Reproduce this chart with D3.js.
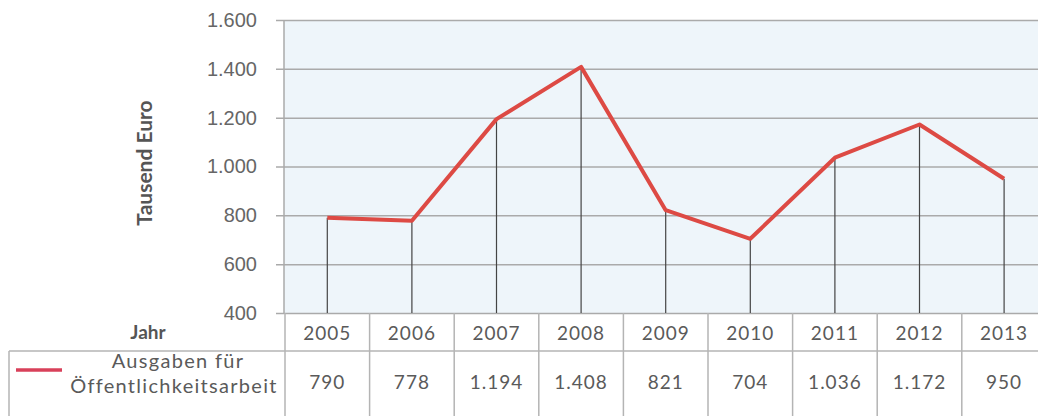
<!DOCTYPE html>
<html>
<head>
<meta charset="utf-8">
<script src="https://cdn.jsdelivr.net/npm/d3@7"></script>
<style>
    body { margin: 0; background: #fff; }
    svg { display: block; font-family: Lato, 'Open Sans', sans-serif; }
    .tick-label { fill: #666; font-size: 20px; }
    .cell-text { fill: #5a5a5a; font-size: 19px; letter-spacing: 1px; }
    .series-text { fill: #5a5a5a; font-size: 20px; letter-spacing: 1.3px; }
</style>
</head>
<body>
<div id="chart"></div>
<script>
// chart data
let years = ['2005', '2006', '2007', '2008', '2009', '2010', '2011', '2012', '2013'];
let spending = [790, 778, 1194, 1408, 821, 704, 1036, 1172, 950];
let spendingLabels = ['790', '778', '1.194', '1.408', '821', '704', '1.036', '1.172', '950'];
let yTicks = [400, 600, 800, 1000, 1200, 1400, 1600];
let seriesName = ['Ausgaben für', 'Öffentlichkeitsarbeit'];

let width = 1038,
    height = 416;

let svg = d3.select('#chart').append('svg').attr('width', width).attr('height', height);

// Scales
let x = d3.scaleBand().domain(years).range([285, 285 + 9 * 84.6]);
let y = d3.scaleLinear().domain([400, 1600]).range([313, 20]);

let fmt = (d) => d3.format(',')(d).replace(/,/g, '.');

// plot background
svg.append('rect')
    .attr('x', 284)
    .attr('y', y(1600))
    .attr('width', width - 284)
    .attr('height', y(400) - y(1600))
    .attr('fill', '#eef5fa');

// gridlines + labels
let yAxis = d3.axisLeft(y).tickValues(yTicks).tickSize(-(width - 276)).tickFormat(fmt).tickPadding(19);
let gy = svg.append('g').attr('transform', 'translate(276,0)').call(yAxis);
gy.select('.domain').remove();
gy.selectAll('.tick line').attr('stroke', '#aaa').attr('stroke-width', 1.5);
gy.selectAll('.tick text').attr('class', 'tick-label').attr('fill', null);

// left border of plot
svg.append('line')
    .attr('x1', 284).attr('x2', 284)
    .attr('y1', y(1600)).attr('y2', y(400))
    .attr('stroke', '#aaa').attr('stroke-width', 1.5);

// axis title
svg.append('text')
    .attr('transform', 'translate(152,163) rotate(-90)')
    .attr('text-anchor', 'middle')
    .attr('font-size', 21)
    .attr('font-weight', 'bold')
    .attr('fill', '#555')
    .text('Tausend Euro');

let points = years.map((yr, i) => ({ year: yr, value: spending[i] }));
let cx = (d) => x(d.year) + x.bandwidth() / 2;

// drop lines
svg.append('g')
    .selectAll('line')
    .data(points)
    .join('line')
    .attr('x1', cx).attr('x2', cx)
    .attr('y1', (d) => y(d.value))
    .attr('y2', y(400))
    .attr('stroke', '#444')
    .attr('stroke-width', 1.2);

// line
let trend = d3.line().x(cx).y((d) => y(d.value));
svg.append('path')
    .datum(points)
    .attr('d', trend)
    .attr('fill', 'none')
    .attr('stroke', '#dd4a44')
    .attr('stroke-width', 4)
    .attr('stroke-linejoin', 'round');

/* data table under the chart */
let table = svg.append('g');
let border = '#b4b4b4';

// column separators
table.selectAll('.hdr-sep')
    .data(years.concat(['end']))
    .join('line')
    .attr('class', 'hdr-sep')
    .attr('x1', (d, i) => 285 + i * x.step())
    .attr('x2', (d, i) => 285 + i * x.step())
    .attr('y1', y(400))
    .attr('y2', height)
    .attr('stroke', border)
    .attr('stroke-width', 1.5);

table.append('line')
    .attr('x1', 9).attr('x2', width)
    .attr('y1', 351).attr('y2', 351)
    .attr('stroke', border).attr('stroke-width', 1.5);

table.append('line')
    .attr('x1', 9).attr('x2', 9)
    .attr('y1', 351).attr('y2', height)
    .attr('stroke', border).attr('stroke-width', 1.5);

table.selectAll('.year')
    .data(years)
    .join('text')
    .attr('class', 'cell-text')
    .attr('x', (d) => x(d) + x.bandwidth() / 2)
    .attr('y', 340)
    .attr('text-anchor', 'middle')
    .text((d) => d);

table.selectAll('.val')
    .data(spendingLabels)
    .join('text')
    .attr('class', 'cell-text')
    .attr('x', (d, i) => x(years[i]) + x.bandwidth() / 2)
    .attr('y', 389)
    .attr('text-anchor', 'middle')
    .text((d) => d);

table.append('text')
    .attr('x', 148)
    .attr('y', 339)
    .attr('text-anchor', 'middle')
    .attr('font-size', 19)
    .attr('font-weight', 'bold')
    .attr('fill', '#555')
    .text('Jahr');

// legend swatch + series name
table.append('line')
    .attr('x1', 16).attr('x2', 62)
    .attr('y1', 370).attr('y2', 370)
    .attr('stroke', '#d8405a').attr('stroke-width', 3.5);

table.selectAll('.series')
    .data(seriesName)
    .join('text')
    .attr('class', 'series-text')
    .attr('x', (d, i) => (i === 0 ? 178 : 174))
    .attr('y', (d, i) => 368 + i * 25)
    .attr('text-anchor', 'middle')
    .text((d) => d);
</script>
</body>
</html>
